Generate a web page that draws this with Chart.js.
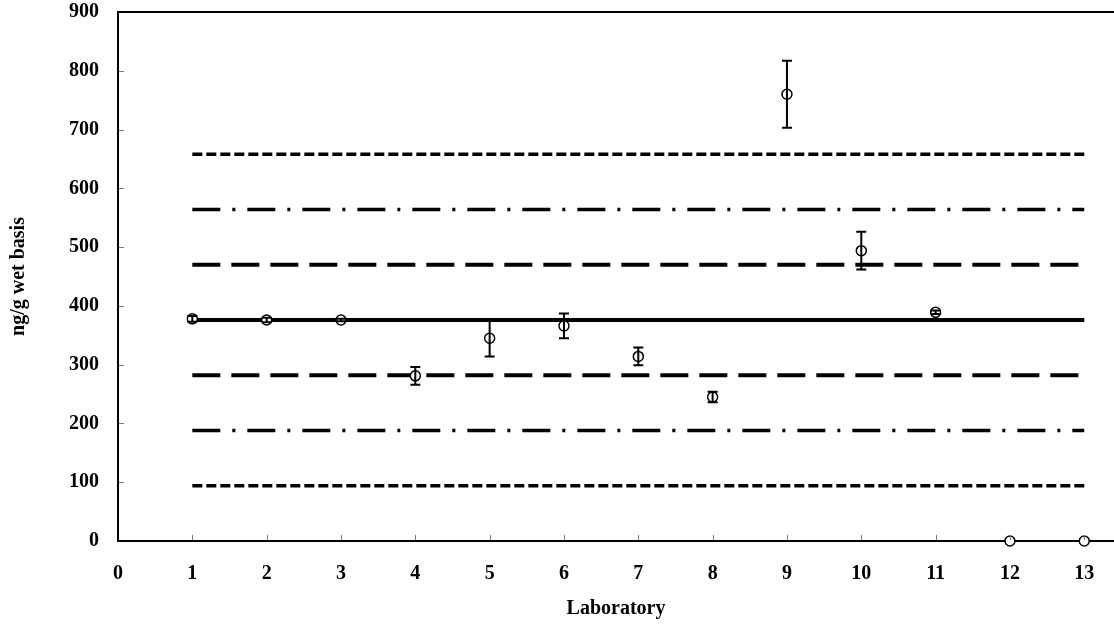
<!DOCTYPE html>
<html>
<head>
<meta charset="utf-8">
<script src="https://cdn.jsdelivr.net/npm/chart.js@4.4.0/dist/chart.umd.min.js"></script>
<style>
  html, body { margin: 0; padding: 0; background: #fff; }
</style>
</head>
<body>
<canvas id="chart" width="1114" height="627"></canvas>
<script>
// lab results (ng/g wet basis) with their error bars
const labs = [1, 2, 3, 4, 5, 6, 7, 8, 9, 10, 11, 12, 13];
const means = [378, 376, 376, 281, 345, 366, 314, 245, 760, 494, 389, 0, 0];
const errs = [5, 4, 2, 15, 31, 21, 15, 9, 57, 32, 3, 0, 0];

// reference lines: assigned value and +/- 1, 2, 3 sd
const lineX = [1, 13];
const assigned = 376;
const sd1 = [282, 470];
const sd2 = [188, 564];
const sd3 = [94, 658];

const xTicks = [0, 1, 2, 3, 4, 5, 6, 7, 8, 9, 10, 11, 12, 13];
const yTicks = [0, 100, 200, 300, 400, 500, 600, 700, 800, 900];

const font = "'Liberation Serif', 'Times New Roman', serif";

function hLine(val, dash, width) {
  return {
    type: "line",
    data: lineX.map(x => ({ x, y: val })),
    borderColor: "#000",
    borderWidth: width,
    borderDash: dash,
    pointRadius: 0,
    fill: false,
    order: 2
  };
}

const errorBars = {
  id: "errorBars",
  afterDatasetsDraw(chart) {
    const { ctx, scales: { x, y } } = chart;
    ctx.save();
    ctx.strokeStyle = "#000";
    ctx.lineWidth = 2;
    labs.forEach((lab, i) => {
      if (!errs[i]) return;
      const px = x.getPixelForValue(lab);
      const top = y.getPixelForValue(means[i] + errs[i]);
      const bot = y.getPixelForValue(means[i] - errs[i]);
      ctx.beginPath();
      ctx.moveTo(px, top); ctx.lineTo(px, bot);
      ctx.moveTo(px - 5, top); ctx.lineTo(px + 5, top);
      ctx.moveTo(px - 5, bot); ctx.lineTo(px + 5, bot);
      ctx.stroke();
    });
    ctx.restore();
  }
};

// top border line and inward tick marks
const frame = {
  id: "frame",
  afterDraw(chart) {
    const { ctx, chartArea: a, scales: { x, y } } = chart;
    ctx.save();
    ctx.strokeStyle = "#000";
    ctx.lineWidth = 2;
    ctx.beginPath();
    ctx.moveTo(a.left - 1, a.top);
    ctx.lineTo(a.right, a.top);
    ctx.stroke();
    ctx.strokeStyle = "#777";
    ctx.lineWidth = 1;
    ctx.beginPath();
    x.ticks.forEach(t => {
      if (t.value === 0) return;
      const px = Math.round(x.getPixelForValue(t.value)) + 0.5;
      ctx.moveTo(px, a.bottom - 1);
      ctx.lineTo(px, a.bottom - 6);
    });
    y.ticks.forEach(t => {
      if (t.value === 0 || t.value === 900) return;
      const py = Math.round(y.getPixelForValue(t.value)) + 0.5;
      ctx.moveTo(a.left + 1, py);
      ctx.lineTo(a.left + 6, py);
    });
    ctx.stroke();
    ctx.restore();
  }
};

new Chart(document.getElementById("chart"), {
  type: "scatter",
  data: {
    datasets: [
      {
        data: labs.map((lab, i) => ({ x: lab, y: means[i] })),
        pointStyle: "circle",
        pointRadius: 5,
        pointBorderWidth: 1.5,
        pointBorderColor: "#000",
        pointBackgroundColor: "#fff",
        showLine: false,
        clip: false,
        order: 1
      },
      hLine(assigned, [], 4),
      hLine(sd1[0], [28, 11], 4),
      hLine(sd1[1], [28, 11], 4),
      hLine(sd2[0], [28, 12, 3, 12], 3.5),
      hLine(sd2[1], [28, 12, 3, 12], 3.5),
      hLine(sd3[0], [10, 4], 3.5),
      hLine(sd3[1], [10, 4], 3.5)
    ]
  },
  options: {
    responsive: false,
    animation: false,
    layout: { autoPadding: false, padding: { top: 12, right: 0, left: 0, bottom: 0 } },
    plugins: { legend: { display: false }, tooltip: { enabled: false } },
    scales: {
      x: {
        type: "linear",
        min: 0,
        max: 13.4,
        afterBuildTicks: s => { s.ticks = xTicks.map(v => ({ value: v })); },
        afterFit: s => { s.height = 86; s.paddingLeft = 0; s.paddingRight = 0; },
        ticks: { padding: 21, color: "#000", font: { family: font, size: 20, weight: "bold" } },
        grid: { display: false, drawTicks: false },
        border: { color: "#000", width: 2 },
        title: {
          display: true,
          text: "Laboratory",
          color: "#000",
          padding: { top: 0, bottom: 6 },
          font: { family: font, size: 20, weight: "bold" }
        }
      },
      y: {
        min: 0,
        max: 900,
        afterBuildTicks: s => { s.ticks = yTicks.map(v => ({ value: v })); },
        afterFit: s => { s.width = 118; s.paddingTop = 0; s.paddingBottom = 0; },
        ticks: { padding: 19, color: "#000", font: { family: font, size: 20, weight: "bold" } },
        grid: { display: false, drawTicks: false },
        border: { color: "#000", width: 2 },
        title: {
          display: true,
          text: "ng/g wet basis",
          color: "#000",
          padding: { top: 7, bottom: 0 },
          font: { family: font, size: 20, weight: "bold" }
        }
      }
    }
  },
  plugins: [errorBars, frame]
});
</script>
</body>
</html>
